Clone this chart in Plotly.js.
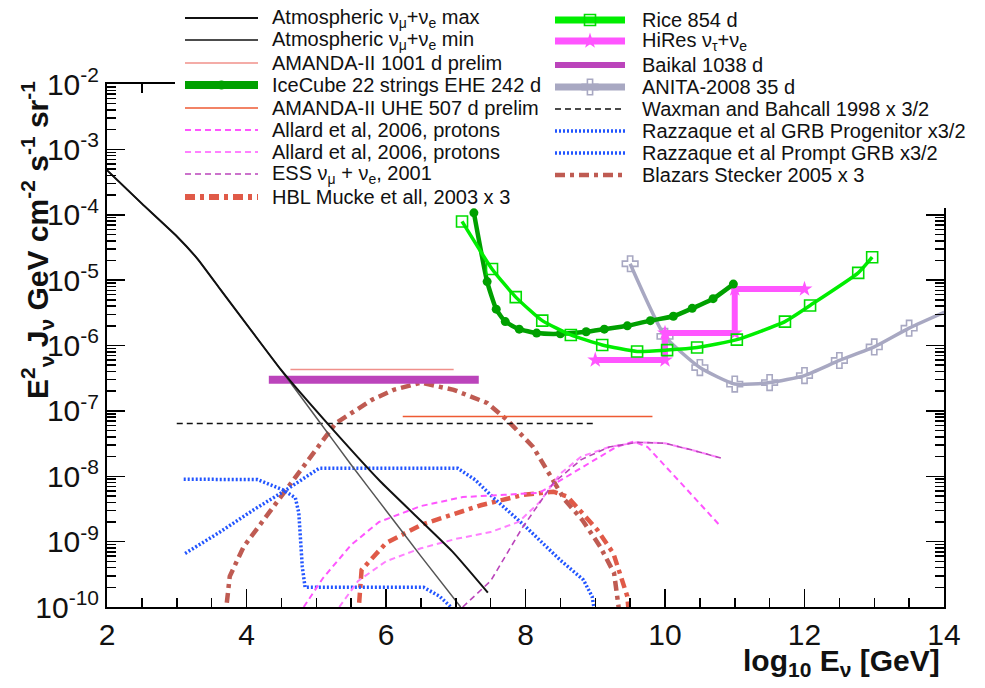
<!DOCTYPE html>
<html><head><meta charset="utf-8">
<script src="https://cdn.plot.ly/plotly-3.0.1.min.js"></script>
<style>html,body{margin:0;padding:0;background:#fff}#chart{width:985px;height:688px}</style>
</head><body><div id="chart"></div>
<script>
// ---------------- data (log10 E in GeV, E^2 J in GeV cm^-2 s^-1 sr^-1) ----------------
const atmMaxX = [2.0, 2.5, 3.0, 3.3, 3.63, 4.06, 4.49, 5.15, 5.92, 6.95, 7.46];
const atmMaxY = [4.8e-4, 1.48e-4, 4.7e-5, 2.1e-5, 7.1e-6, 1.74e-6, 4.3e-7, 6.6e-8, 8.3e-9, 7.1e-10, 1.66e-10];
const atmMinX = [2.0, 2.5, 3.0, 3.3, 3.63, 4.06, 4.49, 5.0, 5.5, 6.0, 6.5, 7.07];
const atmMinY = [4.8e-4, 1.48e-4, 4.7e-5, 2.1e-5, 7.1e-6, 1.74e-6, 4.3e-7, 7.9e-8, 1.5e-8, 3.0e-9, 6.0e-10, 1.0e-10];
const amanda1001X = [4.63, 6.97];
const amanda1001Y = [4.3e-7, 4.3e-7];
const icecubeX = [7.26, 7.45, 7.58, 7.71, 7.91, 8.16, 8.5, 8.87, 9.13, 9.46, 9.79, 10.12, 10.39, 10.69, 10.98];
const icecubeY = [1.07e-4, 9.5e-6, 3.6e-6, 2.32e-6, 1.78e-6, 1.55e-6, 1.51e-6, 1.62e-6, 1.78e-6, 2.0e-6, 2.4e-6, 2.8e-6, 3.7e-6, 5.2e-6, 8.7e-6];
const amandaUheX = [6.24, 9.82];
const amandaUheY = [8.2e-8, 8.2e-8];
const allard1X = [4.82, 5.1, 5.5, 5.9, 6.5, 7.1, 7.7, 8.2, 8.6, 9.0, 9.3, 9.55, 9.75, 10.3, 10.8];
const allard1Y = [1.0e-10, 2.8e-10, 8.9e-10, 2.0e-9, 3.5e-9, 4.8e-9, 5.2e-9, 5.6e-9, 1.0e-8, 1.8e-8, 2.8e-8, 3.4e-8, 2.8e-8, 6.5e-9, 1.7e-9];
const allard2X = [5.33, 5.6, 6.0, 6.5, 7.0, 7.5, 7.9, 8.2, 8.5, 8.8, 9.2, 9.6, 10.0, 10.4, 10.8];
const allard2Y = [1.0e-10, 2.5e-10, 5.0e-10, 7.9e-10, 1.1e-9, 1.4e-9, 2.0e-9, 4.0e-9, 1.1e-8, 2.0e-8, 2.8e-8, 3.3e-8, 3.2e-8, 2.5e-8, 1.9e-8];
const essX = [7.1, 7.5, 7.95, 8.4, 8.8, 9.2, 9.6, 10.0, 10.4, 10.8];
const essY = [1.0e-10, 2.5e-10, 1.6e-9, 7.9e-9, 1.8e-8, 2.8e-8, 3.3e-8, 3.2e-8, 2.5e-8, 1.9e-8];
const hblX = [5.59, 5.62, 5.65, 6.0, 6.51, 7.36, 7.97, 8.4, 8.6, 9.03, 9.26, 9.46, 9.49];
const hblY = [5e-11, 1.6e-10, 3.7e-10, 9.5e-10, 1.82e-9, 3.6e-9, 5.2e-9, 5.8e-9, 4.9e-9, 1.51e-9, 6.6e-10, 1.45e-10, 6.3e-11];
const riceX = [7.09, 7.52, 7.86, 8.24, 8.65, 9.1, 9.6, 10.03, 10.46, 11.03, 11.72, 12.08, 12.77, 12.97];
const riceY = [7.9e-5, 1.48e-5, 5.5e-6, 2.4e-6, 1.45e-6, 1.02e-6, 8.1e-7, 8.5e-7, 9.3e-7, 1.23e-6, 2.32e-6, 4.1e-6, 1.29e-5, 2.24e-5];
const hiresX = [9.0, 10.0, 10.0, 11.0, 11.0, 12.0];
const hiresY = [6.0e-7, 6.0e-7, 1.55e-6, 1.55e-6, 7.3e-6, 7.3e-6];
const baikalX = [4.32, 7.33];
const baikalY = [3.0e-7, 3.0e-7];
const anitaX = [9.5, 10.0, 10.5, 11.0, 11.5, 12.0, 12.5, 13.0, 13.5, 14.5];
const anitaY = [1.78e-5, 1.38e-6, 4.6e-7, 2.57e-7, 2.71e-7, 3.47e-7, 5.9e-7, 9.5e-7, 1.84e-6, 5.5e-6];
const wbX = [3.0, 9.0];
const wbY = [6.4e-8, 6.4e-8];
const razProgX = [3.1, 4.16, 4.52, 4.7, 4.75, 4.8, 4.84, 6.54, 6.77, 6.93, 7.05];
const razProgY = [9.0e-9, 8.9e-9, 6.2e-9, 4.7e-9, 2.75e-9, 4.1e-10, 2.0e-10, 2.0e-10, 1.45e-10, 1.0e-10, 6.3e-11];
const razPromptX = [3.12, 3.6, 4.11, 4.57, 5.04, 7.03, 7.28, 7.53, 8.0, 8.5, 8.83, 8.955, 8.98, 9.0];
const razPromptY = [6.6e-10, 1.36e-9, 3.1e-9, 6.2e-9, 1.32e-8, 1.32e-8, 8.8e-9, 4.8e-9, 1.7e-9, 5.2e-10, 2.6e-10, 1.45e-10, 1.0e-10, 5e-11];
const blazarX = [3.68, 3.76, 3.96, 4.47, 4.98, 5.28, 5.8, 6.11, 6.5, 6.97, 7.45, 7.74, 8.11, 8.36, 8.56, 8.82, 9.07, 9.27, 9.33, 9.36];
const blazarY = [5e-11, 2.95e-10, 8.4e-10, 4.4e-9, 2.4e-8, 6.5e-8, 1.48e-7, 2.1e-7, 2.7e-7, 2.1e-7, 1.32e-7, 7.2e-8, 2.8e-8, 1.0e-8, 4.4e-9, 2.1e-9, 8.4e-10, 3.3e-10, 1.29e-10, 6.3e-11];

const legendCol1 = ['Atmospheric ν<sub>μ</sub>+ν<sub>e</sub> max', 'Atmospheric ν<sub>μ</sub>+ν<sub>e</sub> min',
  'AMANDA-II 1001 d prelim', 'IceCube 22 strings EHE 242 d', 'AMANDA-II UHE 507 d prelim',
  'Allard et al, 2006, protons', 'Allard et al, 2006, protons', 'ESS ν<sub>μ</sub> + ν<sub>e</sub>, 2001',
  'HBL Mucke et all, 2003 x 3'];
const legendCol2 = ['Rice 854 d', 'HiRes ν<sub>τ</sub>+ν<sub>e</sub>', 'Baikal 1038 d', 'ANITA-2008 35 d',
  'Waxman and Bahcall 1998 x 3/2', 'Razzaque et al GRB Progenitor x3/2', 'Razzaque et al Prompt GRB x3/2',
  'Blazars Stecker 2005 x 3'];
const xTickVals = [2, 4, 6, 8, 10, 12, 14];
const yTickExp = [-10, -9, -8, -7, -6, -5, -4, -3, -2];

// ---------------- styles ----------------
const FONT = 'Liberation Sans, Arial, Helvetica, sans-serif';
const S = {
  atmMax: {line: {color: '#111111', width: 2, shape: 'spline', smoothing: 0.4}},
  atmMin: {line: {color: '#555555', width: 1.5, shape: 'spline', smoothing: 0.4}},
  amanda1001: {line: {color: '#f0908a', width: 1.6}},
  icecube: {line: {color: '#00a000', width: 4.5, shape: 'spline', smoothing: 0.5}, marker: {symbol: 'circle', size: 9, color: '#00a000'}, legW: 8},
  amandaUhe: {line: {color: '#ee5a33', width: 1.6}},
  allard1: {line: {color: '#ff55ff', width: 2, dash: '6px,4px'}},
  allard2: {line: {color: '#ff80ff', width: 2, dash: '6px,4px'}},
  ess: {line: {color: '#bb44bb', width: 1.6, dash: '6px,4px'}},
  hbl: {line: {color: '#e05a48', width: 4.5, dash: '10px,5px,4px,5px'}, legW: 6},
  rice: {line: {color: '#00ee00', width: 3.5, shape: 'spline', smoothing: 0.5}, marker: {symbol: 'square-open', size: 11, color: '#00dd00', line: {width: 1.6, color: '#00dd00'}}, legW: 7},
  hires: {line: {color: '#ff55ff', width: 6}, marker: {symbol: 'star', size: 12, color: '#ff55ff'}, legW: 7},
  baikal: {line: {color: '#bb44bb', width: 8}, legW: 6},
  anita: {line: {color: '#a8a8c2', width: 3.5, shape: 'spline', smoothing: 0.5}, marker: {symbol: 'cross-open', size: 13, color: '#a8a8c2', line: {width: 1.6, color: '#a8a8c2'}}, legW: 7},
  wb: {line: {color: '#111111', width: 1.6, dash: '6px,4px'}},
  razProg: {line: {color: '#2255ff', width: 3.5, dash: '2px,2px'}},
  razPrompt: {line: {color: '#2255ff', width: 3.5, dash: '2px,2px'}},
  blazar: {line: {color: '#bf5b52', width: 4.5, dash: '10px,5px,4px,5px'}}
};

function tr(x, y, st) {
  const t = {type: 'scatter', x: x, y: y, xaxis: 'x', yaxis: 'y', mode: st.marker ? 'lines+markers' : 'lines',
    line: st.line, hoverinfo: 'skip', showlegend: false};
  if (st.marker) t.marker = st.marker;
  return t;
}

const traces = [
  tr(blazarX, blazarY, S.blazar),
  tr(hblX, hblY, S.hbl),
  tr(razProgX, razProgY, S.razProg),
  tr(razPromptX, razPromptY, S.razPrompt),
  tr(allard1X, allard1Y, S.allard1),
  tr(allard2X, allard2Y, S.allard2),
  tr(essX, essY, S.ess),
  tr(wbX, wbY, S.wb),
  tr(amandaUheX, amandaUheY, S.amandaUhe),
  tr(amanda1001X, amanda1001Y, S.amanda1001),
  tr(baikalX, baikalY, S.baikal),
  tr(atmMinX, atmMinY, S.atmMin),
  tr(atmMaxX, atmMaxY, S.atmMax),
  tr(anitaX, anitaY, S.anita),
  tr(hiresX, hiresY, S.hires),
  tr(icecubeX, icecubeY, S.icecube),
  tr(riceX, riceY, S.rice)
];

// ---------------- legend (drawn on an overlay in pixel coordinates) ----------------
const W = 985, H = 688;
function px(x, y, extra) {
  return Object.assign({type: 'scatter', x: x, y: y, xaxis: 'x2', yaxis: 'y2', hoverinfo: 'skip', showlegend: false}, extra);
}
traces.push(px([175, 985, 985, 175, 175], [0, 0, 208, 208, 0], {mode: 'lines', fill: 'toself', fillcolor: '#ffffff', line: {width: 0, color: '#ffffff'}}));

const col1Styles = [S.atmMax, S.atmMin, S.amanda1001, S.icecube, S.amandaUhe, S.allard1, S.allard2, S.ess, S.hbl];
const col2Styles = [S.rice, S.hires, S.baikal, S.anita, S.wb, S.razProg, S.razPrompt, S.blazar];
const col1Rows = [18, 40, 63, 85, 108, 130, 152, 174, 197];
const col2Rows = [20, 41, 65, 87, 109, 131, 153, 175];
const annotations = [];
function addLegend(labels, styles, x0, x1, xt, rows) {
  labels.forEach((lab, i) => {
    const y = rows[i];
    const st = styles[i];
    const ln = Object.assign({}, st.line); delete ln.shape; delete ln.smoothing;
    if (ln.color === '#555555') ln.color = '#111111';
    if (st.legW) ln.width = st.legW;
    traces.push(px([x0, x1], [y, y], {mode: 'lines', line: ln}));
    if (st.marker) traces.push(px([(x0 + x1) / 2], [y], {mode: 'markers', marker: st.marker}));
    annotations.push({xref: 'x2', yref: 'y2', x: xt, y: y, text: lab, showarrow: false, xanchor: 'left', yanchor: 'middle',
      font: {family: FONT, size: 20, color: '#111'}});
  });
}
addLegend(legendCol1, col1Styles, 185, 258, 270, col1Rows);
addLegend(legendCol2, col2Styles, 555, 625, 640, col2Rows);

annotations.push({xref: 'x2', yref: 'y2', x: 37, y: 240, textangle: -90, showarrow: false, xanchor: 'center', yanchor: 'middle',
  text: '<b>E<sup>2</sup><sub>ν</sub> J<sub>ν</sub> GeV cm<sup>-2</sup> s<sup>-1</sup> sr<sup>-1</sup></b>',
  font: {family: FONT, size: 30, color: '#111'}});
annotations.push({xref: 'x2', yref: 'y2', x: 942, y: 662, showarrow: false, xanchor: 'right', yanchor: 'middle',
  text: '<b>log<sub>10</sub> E<sub>ν</sub> [GeV]</b>', font: {family: FONT, size: 30, color: '#111'}});

const axCommon = {showline: true, linecolor: '#000', linewidth: 2, mirror: 'ticks', ticks: 'inside', ticklen: 18,
  tickwidth: 1.5, tickcolor: '#000', showgrid: false, zeroline: false, fixedrange: true,
  tickfont: {family: FONT, size: 30, color: '#111'}};

const layout = {
  width: W, height: H, margin: {l: 0, r: 0, t: 0, b: 0},
  paper_bgcolor: '#fff', plot_bgcolor: 'rgba(0,0,0,0)', showlegend: false,
  font: {family: FONT},
  xaxis: Object.assign({}, axCommon, {domain: [107 / W, 944 / W], range: [2, 14], tickvals: xTickVals, ticktext: xTickVals.map(String),
    minor: {ticks: 'inside', ticklen: 9, tickwidth: 1.5, tickcolor: '#000', dtick: 0.5, tick0: 2, showgrid: false}, anchor: 'y'}),
  yaxis: Object.assign({}, axCommon, {domain: [1 - 607 / H, 1 - 84 / H], type: 'log', range: [-10, -2],
    tickvals: yTickExp.map(e => Math.pow(10, e)), ticktext: yTickExp.map(e => '10<sup>' + e + '</sup>'),
    minor: {ticks: 'inside', ticklen: 9, tickwidth: 1.5, tickcolor: '#000', dtick: 'D1', showgrid: false}, anchor: 'x'}),
  xaxis2: {domain: [0, 1], range: [0, W], visible: false, fixedrange: true, anchor: 'y2'},
  yaxis2: {domain: [0, 1], range: [H, 0], visible: false, fixedrange: true, anchor: 'x2'},
  annotations: annotations
};

Plotly.newPlot('chart', traces, layout, {staticPlot: true, displayModeBar: false});
</script></body></html>
